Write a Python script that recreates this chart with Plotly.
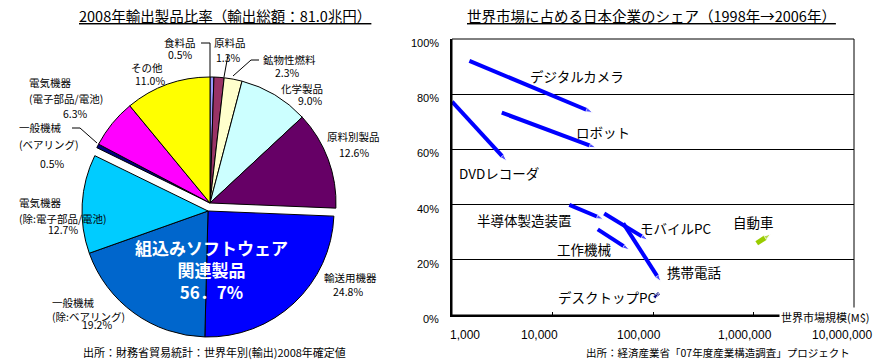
import math
import plotly.graph_objects as go

W, H = 882, 361


def px(x):
    return x / W


def py(y):
    return 1 - y / H


JP = "Noto Sans CJK JP"
NUM = "Liberation Sans, Noto Sans CJK JP"

# ---------------- data: export pie ----------------
pie_labels = ["食料品", "原料品", "鉱物性燃料", "化学製品", "原料別製品",
              "輸送用機器", "一般機械(除:ベアリング)", "電気機器(除:電子部品/電池)",
              "一般機械(ベアリング)", "電気機器(電子部品/電池)", "その他"]
pie_values = [0.5, 1.3, 2.3, 9.0, 12.6, 24.8, 19.2, 12.7, 0.5, 6.3, 11.0]
pie_colors = ["#9999FF", "#993366", "#FFFFCC", "#CCFFFF", "#660066",
              "#0000FF", "#0066CC", "#00CCFF", "#000080", "#FF00FF", "#FFFF00"]
embedded = [False, False, False, False, False, True, True, True, False, False, False]

# ---------------- data: world share chart ----------------
products = ["デジタルカメラ", "ロボット", "DVDレコーダ", "半導体製造装置", "モバイルPC",
            "携帯電話", "工作機械", "デスクトップPC", "自動車"]
market_1998 = [1490, 3130, 1000, 14700, 32700, 50600, 28200, 103000, 1077000]
market_2006 = [25100, 27100, 3500, 32000, 88500, 119400, 58100, 114800, 1483000]
share_1998 = [0.921, 0.733, 0.773, 0.399, 0.368, 0.332, 0.310, 0.064, 0.260]
share_2006 = [0.734, 0.606, 0.558, 0.347, 0.272, 0.121, 0.236, 0.079, 0.293]
line_colors = ["#0000FF"] * 7 + ["#000080", "#99CC00"]
line_widths = [4, 4, 4, 4, 4, 4, 4, 3, 5]

x_tick_vals = [1000, 10000, 100000, 1000000, 10000000]
x_tick_text = ["1,000", "10,000", "100,000", "1,000,000", "10,000,000"]
y_tick_vals = [0, 0.2, 0.4, 0.6, 0.8, 1.0]
y_tick_text = ["0%", "20%", "40%", "60%", "80%", "100%"]

fig = go.Figure()

# ---- pie: two overlaid traces so the embedded-software group moves as one block ----
transparent = "rgba(0,0,0,0)"
for group, (x0, y0, x1, y1) in [(False, (84, 77, 336, 329)), (True, (82, 85, 334, 337))]:
    cols = [c if e == group else transparent for c, e in zip(pie_colors, embedded)]
    lcols = ["black" if e == group else transparent for e in embedded]
    fig.add_trace(go.Pie(
        labels=pie_labels, values=pie_values, sort=False,
        direction="clockwise", rotation=0,
        marker=dict(colors=cols, line=dict(color=lcols, width=1)),
        textinfo="none", hoverinfo="skip", showlegend=False,
        domain=dict(x=[px(x0), px(x1)], y=[py(y1), py(y0)]),
    ))

# ---- share chart arrows ----
for i in range(len(products)):
    fig.add_trace(go.Scatter(
        x=[market_1998[i], market_2006[i]], y=[share_1998[i], share_2006[i]],
        mode="lines+markers",
        line=dict(color=line_colors[i], width=line_widths[i]),
        marker=dict(symbol="arrow", angleref="previous", size=[0, 7],
                    color=line_colors[i]),
        hoverinfo="skip", showlegend=False, xaxis="x", yaxis="y",
    ))

annotations = []


def add_text(text, x, y, size=11, anchor="center", color="black", family=JP, **kw):
    annotations.append(dict(text=text, x=px(x), y=py(y), xref="paper", yref="paper",
                            xanchor=anchor, yanchor="middle", showarrow=False,
                            font=dict(size=size, color=color, family=family), **kw))


# titles and sources
add_text("<u>2008年輸出製品比率（輸出総額：81.0兆円）</u>", 225, 15, size=14.5)
add_text("<u>世界市場に占める日本企業のシェア（1998年→2006年）</u>", 651, 15, size=14.5)
add_text("出所：財務省貿易統計：世界年別(輸出)2008年確定値", 214, 352, size=11)
add_text("出所：経済産業省「07年度産業構造調査」プロジェクト", 718, 352, size=10.5)

# pie labels
pie_text = [
    ("食料品", 180, 43, "center"), ("0.5%", 180, 55, "center"),
    ("原料品", 230, 43, "center"), ("1.3%", 228, 57, "center"),
    ("鉱物性燃料", 289, 60, "center"), ("2.3%", 287, 72, "center"),
    ("化学製品", 302, 88, "center"), ("9.0%", 310, 100, "center"),
    ("原料別製品", 353, 137, "center"), ("12.6%", 354, 152, "center"),
    ("輸送用機器", 350, 277, "center"), ("24.8%", 348, 291, "center"),
    ("一般機械", 50, 302, "left"), ("(除:ベアリング)", 50, 316, "left"), ("19.2%", 97, 324, "center"),
    ("電気機器", 17, 202, "left"), ("(除:電子部品/電池)", 17, 218, "left"), ("12.7%", 63, 229, "center"),
    ("一般機械", 17, 128, "left"), ("(ベアリング)", 17, 145, "left"), ("0.5%", 52, 163, "center"),
    ("電気機器", 27, 82, "left"), ("(電子部品/電池)", 27, 98, "left"), ("6.3%", 75, 113, "center"),
    ("その他", 147, 68, "center"), ("11.0%", 150, 80, "center"),
]
for t, x, y, a in pie_text:
    add_text(t, x, y, size=10.5, anchor=a)

add_text("<b>組込みソフトウェア<br>関連製品<br>56．7%</b>", 211, 269, size=17, color="white")

# product labels on share chart
label_pos = [(577, 76), (603, 132), (499, 173), (524, 220), (676, 228),
             (694, 272), (584, 249), (607, 297), (753, 222)]
for name, (x, y) in zip(products, label_pos):
    add_text(name, x, y, size=13.5)

# axis title
add_text("世界市場規模(M$)", 825, 317, size=11, bgcolor="white")

# x tick labels (placed under the decades, with the original's offsets)
x_shift = [13, -13, -14, -9, -12]
for v, t, s in zip(x_tick_vals, x_tick_text, x_shift):
    annotations.append(dict(text=t, x=math.log10(v), y=py(335), xref="x", yref="paper",
                            xshift=s, showarrow=False, xanchor="center", yanchor="middle",
                            font=dict(size=12, family=NUM, color="black")))
for v, t in zip(y_tick_vals, y_tick_text):
    annotations.append(dict(text=t, x=px(441), y=v, xref="paper", yref="y", yshift=-4,
                            showarrow=False, xanchor="right", yanchor="middle",
                            font=dict(size=11, family=NUM, color="black")))


def path(points):
    s = "M " + " L ".join(f"{px(x)},{py(y)}" for x, y in points)
    return dict(type="path", path=s, xref="paper", yref="paper",
                line=dict(color="black", width=1), layer="above")


shapes = [
    path([(201, 43), (210, 43), (210, 77)]),
    path([(228, 55), (224, 77)]),
    path([(259, 60), (251, 60), (233, 76)]),
    path([(72, 128), (80, 128), (97, 143)]),
    dict(type="rect", xref="x domain", yref="y domain", x0=0, x1=1, y0=0, y1=1,
         line=dict(color="black", width=1), layer="above"),
]

fig.update_layout(
    width=W, height=H, margin=dict(l=0, r=0, t=0, b=0),
    paper_bgcolor="white", plot_bgcolor="white",
    font=dict(family=JP, color="black"),
    annotations=annotations, shapes=shapes,
    xaxis=dict(type="log", range=[3, 7], domain=[px(452), px(854)], anchor="y",
               showgrid=False, zeroline=False, showline=True, linewidth=2, linecolor="black",
               ticks="inside", ticklen=3, tickcolor="black", tickvals=x_tick_vals,
               showticklabels=False),
    yaxis=dict(range=[0, 1], domain=[py(315), py(39)], anchor="x",
               showgrid=True, gridcolor="black", gridwidth=1, zeroline=False,
               showline=True, linewidth=2, linecolor="black", ticks="",
               tickvals=y_tick_vals, showticklabels=False),
)

fig.write_html("out.html", config={"displayModeBar": False},
               post_script="document.body.style.margin='0';document.body.style.overflow='hidden';")
